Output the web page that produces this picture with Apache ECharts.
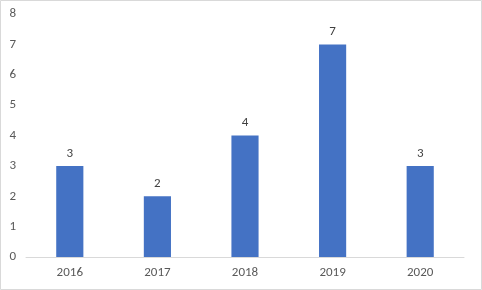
<!DOCTYPE html>
<html>
<head>
<meta charset="utf-8">
<script src="https://cdn.jsdelivr.net/npm/echarts@6/dist/echarts.min.js"></script>
<style>html,body{margin:0;padding:0;background:#fff;}#c{width:482px;height:290px;}</style>
</head>
<body>
<div id="c"></div>
<script>
const categories = ['2016', '2017', '2018', '2019', '2020'];
const values = [3, 2, 4, 7, 3];
const yTicks = [0, 1, 2, 3, 4, 5, 6, 7, 8];

const font = 'Calibri, Carlito, Lato, sans-serif';
const chart = echarts.init(document.getElementById('c'), null, {renderer: 'canvas'});
chart.setOption({
  animation: false,
  backgroundColor: '#fff',
  graphic: [{
    type: 'rect', silent: true,
    shape: {x: 0.5, y: 0.5, width: 481, height: 289},
    style: {fill: 'none', stroke: '#d9d9d9', lineWidth: 1}
  }],
  grid: {left: 26, right: 18, top: 14, bottom: 33, containLabel: false},
  xAxis: {
    type: 'category', data: categories,
    axisLine: {lineStyle: {color: '#d9d9d9', width: 1}},
    axisTick: {show: false},
    axisLabel: {color: '#595959', fontSize: 13, fontFamily: font, margin: 9}
  },
  yAxis: {
    type: 'value', min: yTicks[0], max: yTicks[yTicks.length - 1], interval: 1,
    axisLine: {show: false}, axisTick: {show: false},
    splitLine: {show: false},
    axisLabel: {color: '#595959', fontSize: 13, fontFamily: font, margin: 10}
  },
  series: [{
    type: 'bar', data: values, barWidth: '31%',
    itemStyle: {color: '#4472C4'},
    label: {show: true, position: 'top', color: '#404040', fontSize: 13, fontFamily: font, distance: 6}
  }]
});
</script>
</body>
</html>
